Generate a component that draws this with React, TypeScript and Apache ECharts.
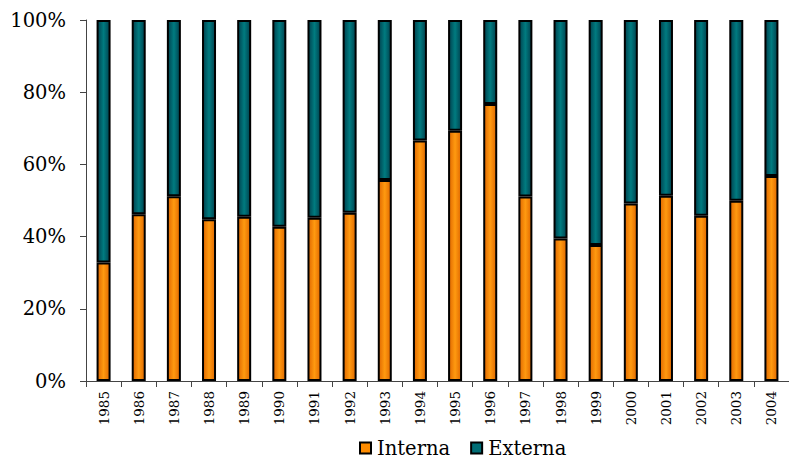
import React, { useEffect, useRef } from "react";
import * as echarts from "echarts";

const years = ["1985","1986","1987","1988","1989","1990","1991","1992","1993","1994","1995","1996","1997","1998","1999","2000","2001","2002","2003","2004"];
const interna = [32.8, 46.2, 51.2, 44.8, 45.5, 42.7, 45.2, 46.6, 55.7, 66.6, 69.3, 76.7, 51.1, 39.5, 37.7, 49.2, 51.3, 45.8, 49.9, 56.8];
const externa = interna.map((v) => +(100 - v).toFixed(1));
const yTicks = [0, 20, 40, 60, 80, 100];

const FONT = "DejaVu Serif";
const ORANGE = "#FF8C00";
const TEAL = "#006D75";

const grad = (edge: string, mid: string) =>
  new echarts.graphic.LinearGradient(0, 0, 1, 0, [
    { offset: 0, color: edge },
    { offset: 0.5, color: mid },
    { offset: 1, color: edge },
  ]);

export default function App() {
  const ref = useRef<HTMLDivElement>(null);
  useEffect(() => {
    if (!ref.current) return;
    const chart = echarts.init(ref.current, null, { renderer: "svg" });
    chart.setOption({
      animation: false,
      backgroundColor: "#ffffff",
      grid: { left: 86, right: -10, top: 20, bottom: 78, containLabel: false },
      legend: {
        top: 438,
        left: 355,
        padding: 0,
        itemWidth: 0,
        itemHeight: 12,
        itemGap: 16,
        icon: "rect",
        itemStyle: { opacity: 0 },
        formatter: (name: string) => (name === "Interna" ? "{a|}{t|" + name + "}" : "{b|}{t|" + name + "}"),
        textStyle: {
          fontFamily: FONT,
          fontSize: 19.5,
          color: "#000",
          padding: 0,
          lineHeight: 16,
          rich: {
            a: { width: 9, height: 9, backgroundColor: ORANGE, borderColor: "#000", borderWidth: 2, verticalAlign: "middle" },
            b: { width: 9, height: 9, backgroundColor: TEAL, borderColor: "#000", borderWidth: 2, verticalAlign: "middle" },
            t: { fontFamily: FONT, fontSize: 19.5, lineHeight: 16, color: "#000", padding: [0, 0, 0, 7], verticalAlign: "middle" },
          },
        },
        data: ["Interna", "Externa"],
      },
      xAxis: {
        type: "category",
        data: years,
        axisLine: { show: true, lineStyle: { color: "#444", width: 1 } },
        axisTick: { show: true, length: 6, lineStyle: { color: "#444" } },
        axisLabel: { rotate: 90, margin: 10, fontFamily: FONT, fontSize: 13.5, color: "#000", interval: 0 },
      },
      yAxis: {
        type: "value",
        min: 0,
        max: 100,
        interval: 20,
        splitLine: { show: false },
        axisLine: { show: true, lineStyle: { color: "#444", width: 1 } },
        axisTick: { show: true, length: 6, lineStyle: { color: "#444" } },
        axisLabel: {
          margin: 20,
          fontFamily: FONT,
          fontSize: 19.5,
          color: "#000",
          formatter: (v: number) => (yTicks.includes(v) ? v + "%" : ""),
        },
      },
      series: [
        {
          name: "Interna",
          type: "bar",
          stack: "total",
          data: interna,
          barWidth: 14,
          itemStyle: { color: grad("#E06800", "#FF9A10"), borderColor: "#000", borderWidth: 2 },
        },
        {
          name: "Externa",
          type: "bar",
          stack: "total",
          data: externa,
          barWidth: 14,
          itemStyle: { color: grad("#00424F", "#007B80"), borderColor: "#000", borderWidth: 2 },
        },
      ],
    });
    return () => chart.dispose();
  }, []);
  return <div ref={ref} style={{ width: 789, height: 459, position: "absolute", left: 0, top: 0 }} />;
}
